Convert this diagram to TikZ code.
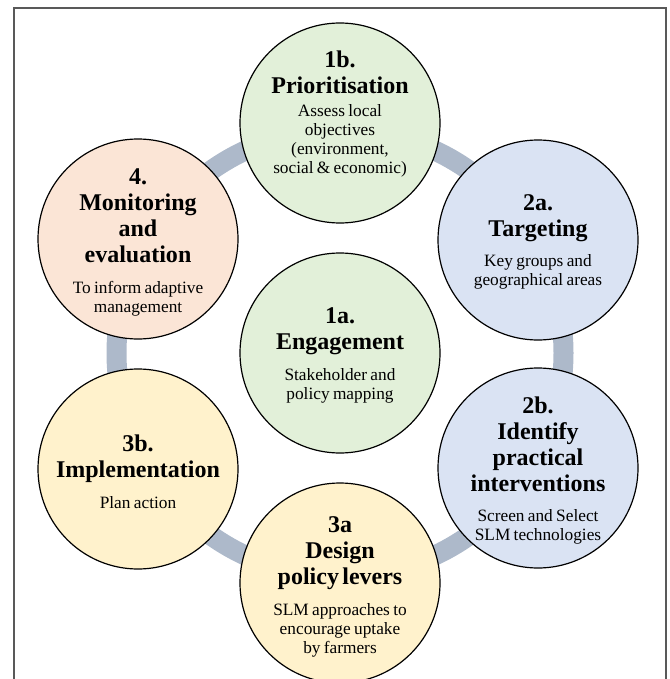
\documentclass[tikz,border=0pt]{standalone}
\usepackage{fontspec}
\setmainfont{Liberation Serif}
\definecolor{cgreen}{HTML}{E2F0D9}
\definecolor{cblue}{HTML}{DAE3F3}
\definecolor{cyellow}{HTML}{FFF2CC}
\definecolor{cpeach}{HTML}{FBE5D6}
\definecolor{cring}{HTML}{ADB9CA}
\definecolor{cframe}{HTML}{595959}
\newcommand{\sttl}{\fontsize{24}{26}\selectfont\bfseries}
\newcommand{\sbody}[2]{\par\vspace{#1}\fontsize{17.3}{19}\selectfont\mdseries #2\par}
\tikzset{
  stage/.style={circle, draw=black, line width=1.2pt, minimum size=200pt, inner sep=0pt},
  stagetext/.style={text width=200pt, align=center, inner sep=0pt, text=black},
  ring/.style={draw=cring, line width=20pt},
  frame/.style={draw=cframe, line width=1.3pt},
}
\begin{document}
\begin{tikzpicture}[x=1pt,y=-1pt]
\useasboundingbox (0,0) rectangle (669,679);
% frame
\coordinate (fbl) at (14,679);
\coordinate (ftl) at (14,8);
\coordinate (ftr) at (666,8);
\coordinate (fbr) at (666,679);
\draw[frame] (fbl) -- (ftl) -- (ftr) -- (fbr);
% ring
\coordinate (ctr) at (340,353);
\draw[ring] (ctr) circle [radius=223.5pt];
% circles
\node[stage, fill=cgreen]  (s1b) at (340,123) {};
\node[stage, fill=cblue]   (s2a) at (538,240) {};
\node[stage, fill=cblue]   (s2b) at (538,468) {};
\node[stage, fill=cyellow] (s3a) at (340,583) {};
\node[stage, fill=cyellow] (s3b) at (138,469) {};
\node[stage, fill=cpeach]  (s4)  at (138,239) {};
\node[stage, fill=cgreen]  (s1a) at (340,353) {};
% texts
\node[stagetext] (t1b) at ([yshift=9pt]s1b.center) {\sttl 1b.\\ Prioritisation\sbody{4pt}{Assess local\\ objectives\\ (environment,\\ social \& economic)}};
\node[stagetext] (t2a) at ([yshift=-2pt]s2a.center) {\sttl 2a.\\ Targeting\sbody{11pt}{Key groups and\\ geographical areas}};
\node[stagetext] (t2b) at ([yshift=-3pt]s2b.center) {\sttl 2b.\\ Identify\\ practical\\ interventions\sbody{11pt}{Screen and Select\\ SLM technologies}};
\node[stagetext] (t3a) at ([yshift=-4pt]s3a.center) {\sttl 3a\\ Design\\ policy levers\sbody{12pt}{SLM approaches to\\ encourage uptake\\ by farmers}};
\node[stagetext] (t3b) at ([yshift=-3pt]s3b.center) {\sttl 3b.\\ Implementation\sbody{12pt}{Plan action}};
\node[stagetext] (t4) at ([yshift=-3pt]s4.center) {\sttl 4.\\ Monitoring\\ and\\ evaluation\sbody{12pt}{To inform adaptive\\ management}};
\node[stagetext] (t1a) at ([yshift=-2pt]s1a.center) {\sttl 1a.\\ Engagement\sbody{12pt}{Stakeholder and\\ policy mapping}};
\end{tikzpicture}
\end{document}
